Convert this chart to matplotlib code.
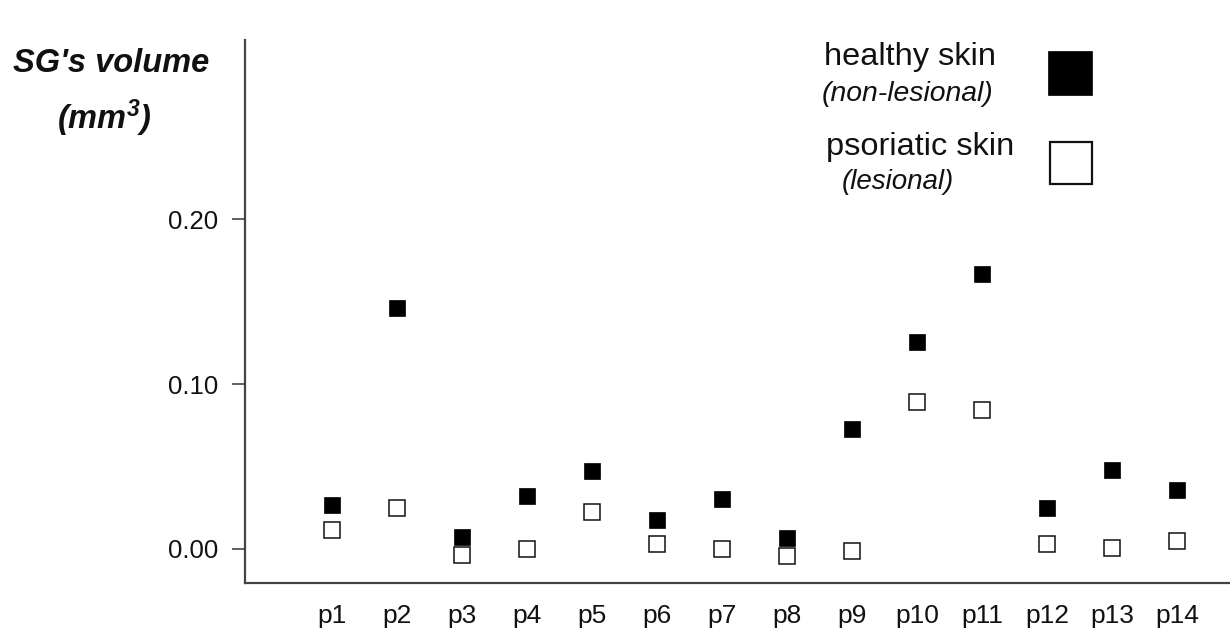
import matplotlib
matplotlib.use("Agg")
import matplotlib.pyplot as plt
from matplotlib.lines import Line2D

plt.rcParams['font.family'] = ['Liberation Sans', 'DejaVu Sans']
plt.rcParams['mathtext.fontset'] = 'custom'
plt.rcParams['mathtext.rm'] = 'Liberation Sans:italic:bold'
plt.rcParams['mathtext.it'] = 'Liberation Sans:italic:bold'
plt.rcParams['mathtext.bf'] = 'Liberation Sans:italic:bold'

patients = ["p1", "p2", "p3", "p4", "p5", "p6", "p7", "p8", "p9", "p10", "p11", "p12", "p13", "p14"]
healthy = [0.0265, 0.146, 0.0069, 0.032, 0.047, 0.0172, 0.0303, 0.0063, 0.0727, 0.1253, 0.1668, 0.0248, 0.0479, 0.0356]
psoriatic = [0.0112, 0.0249, -0.0040, 0.0000, 0.0226, 0.0028, 0.0000, -0.0046, -0.0016, 0.0893, 0.0840, 0.0030, 0.0004, 0.0044]
yticks = [0.00, 0.10, 0.20]
ytick_labels = ["0.00", "0.10", "0.20"]

W, H = 1230, 630
fig = plt.figure(figsize=(W / 100, H / 100), dpi=100)

def fx(px):
    return px / W

def fy(py):
    return 1 - py / H

ax = fig.add_axes([fx(245), fy(583), 1 - fx(245), fy(40) - fy(583)])

x = list(range(1, len(patients) + 1))
ax.plot(x, healthy, linestyle='none', marker='s', markersize=11.5,
        markerfacecolor='black', markeredgecolor='black', markeredgewidth=0.5, clip_on=False)
ax.plot(x, psoriatic, linestyle='none', marker='s', markersize=11.0,
        markerfacecolor='white', markeredgecolor='#111111', markeredgewidth=1.1, clip_on=False)

ax.set_xlim(-0.338, 14.815)
ax.set_ylim(-0.0208, 0.3089)

ax.set_yticks(yticks)
ax.set_yticklabels(ytick_labels)
ax.set_xticks(x)
ax.set_xticklabels(patients)

for s in ['top', 'right']:
    ax.spines[s].set_visible(False)
for s in ['left', 'bottom']:
    ax.spines[s].set_color('#444444')
    ax.spines[s].set_linewidth(1.6)

ax.tick_params(axis='y', length=9.5, width=1.2, color='#444444', pad=10,
               labelsize=18.5, labelcolor='#111111')
ax.tick_params(axis='x', length=0, pad=15, labelsize=19, labelcolor='#111111')

# y-axis title
fig.text(fx(111), fy(72), "SG's volume", ha='center', va='baseline',
         fontsize=23.5, fontweight='bold', fontstyle='italic', color='#111111')
fig.text(fx(104), fy(129), r"(mm$^{\mathrm{3}}$)", ha='center', va='baseline',
         fontsize=23.5, fontweight='bold', fontstyle='italic', color='#111111')

# legend
fig.text(fx(910), fy(65), "healthy skin", ha='center', va='baseline', fontsize=23.4, color='#111111')
fig.text(fx(908), fy(101), "(non-lesional)", ha='center', va='baseline', fontsize=20.4,
         fontstyle='italic', color='#111111')
fig.text(fx(920), fy(155), "psoriatic skin", ha='center', va='baseline', fontsize=23.4, color='#111111')
fig.text(fx(898), fy(189), "(lesional)", ha='center', va='baseline', fontsize=20,
         fontstyle='italic', color='#111111')

fig.add_artist(Line2D([fx(1070)], [fy(72.5)], transform=fig.transFigure, linestyle='none',
                      marker='s', markersize=31.5, markerfacecolor='black',
                      markeredgecolor='black', markeredgewidth=0.5))
fig.add_artist(Line2D([fx(1071)], [fy(162.5)], transform=fig.transFigure, linestyle='none',
                      marker='s', markersize=30.5, markerfacecolor='white',
                      markeredgecolor='#111111', markeredgewidth=1.6))

fig.savefig("out.png", dpi=100, facecolor='white')
